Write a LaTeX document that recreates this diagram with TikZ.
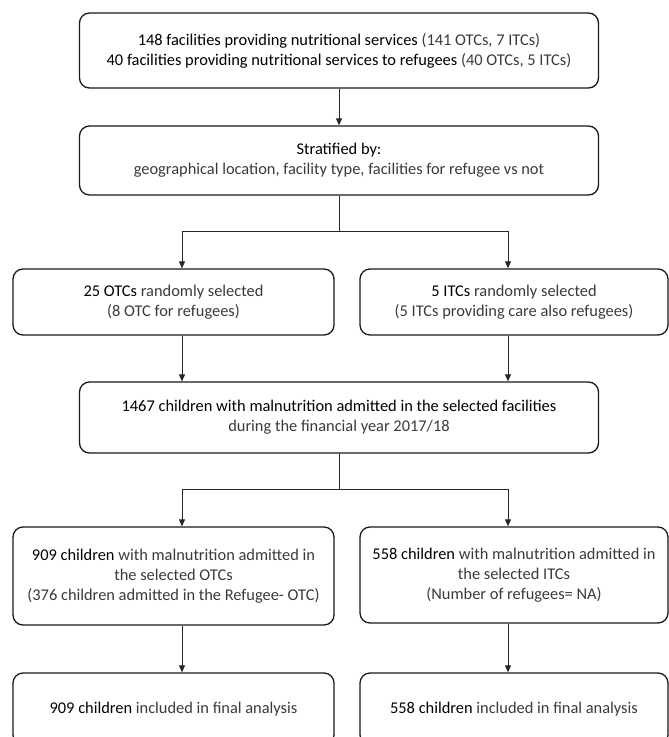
\documentclass[tikz,border=0pt]{standalone}
\usepackage{fontspec}
\setmainfont{Carlito}
\usetikzlibrary{arrows.meta}
\definecolor{lite}{HTML}{3A3A3A}
\newcommand{\hl}[1]{{\color{black}#1}}
\begin{document}
\begin{tikzpicture}[x=1pt,y=-1pt,
  box/.style={draw=black!90, line width=1.3pt, rounded corners=10pt, align=center,
    text=lite, inner sep=0pt, font=\fontsize{16.4}{20}\selectfont},
  arr/.style={draw=black!85, line width=0.9pt, -{Triangle[length=7pt,width=6pt]}},
  ln/.style={draw=black!85, line width=0.9pt}]
\useasboundingbox (0,0) rectangle (669,737);
\clip (0,0) rectangle (669,737);
\node[box, minimum width=519pt, minimum height=75pt] (A) at (339,50.5)
  {\hl{148 facilities providing nutritional services} (141 OTCs, 7 ITCs)\\
   \hl{40 facilities providing nutritional services to refugees} (40 OTCs, 5 ITCs)};
\node[box, minimum width=519pt, minimum height=69pt] (B) at (339,160.5)
  {\hl{Stratified by:}\\
   geographical location, facility type, facilities for refugee vs not};
\node[box, minimum width=321pt, minimum height=66pt] (C) at (173.5,302)
  {\hl{25 OTCs} randomly selected\\ (8 OTC for refugees)};
\node[box, minimum width=308pt, minimum height=66pt] (D) at (514,302)
  {\hl{5 ITCs} randomly selected\\ (5 ITCs providing care also refugees)};
\node[box, minimum width=519pt, minimum height=71pt] (E) at (339,417.5)
  {\hl{1467 children with malnutrition admitted in the selected facilities}\\
   during the financial year 2017/18};
\node[box, minimum width=321pt, minimum height=98pt] (F) at (173.5,576)
  {\hl{909 children} with malnutrition admitted in\\ the selected OTCs\\
   (376 children admitted in the Refugee- OTC)};
\node[box, minimum width=308pt, minimum height=96pt] (G) at (514,575)
  {\hl{558 children} with malnutrition admitted in\\ the selected ITCs\\
   (Number of refugees= NA)};
\node[box, minimum width=321pt, minimum height=72pt] (H) at (173.5,709)
  {\hl{909 children} included in final analysis};
\node[box, minimum width=308pt, minimum height=72pt] (I) at (514,709)
  {\hl{558 children} included in final analysis};
\coordinate (j1) at (339,231);
\coordinate (j2) at (339,489);
\draw[arr] (A) -- (B);
\draw[ln] (B.south) -- (j1);
\draw[arr] (j1) -| ([xshift=8.5pt]C.north);
\draw[arr] (j1) -| ([xshift=-6pt]D.north);
\draw[arr] ([xshift=8.5pt]C.south) -- ([xshift=8.5pt]C.south |- E.north);
\draw[arr] ([xshift=-6pt]D.south) -- ([xshift=-6pt]D.south |- E.north);
\draw[ln] (E.south) -- (j2);
\draw[arr] (j2) -| ([xshift=8.5pt]F.north);
\draw[arr] (j2) -| ([xshift=-6pt]G.north);
\draw[arr] ([xshift=8.5pt]F.south) -- ([xshift=8.5pt]H.north);
\draw[arr] ([xshift=-6pt]G.south) -- ([xshift=-6pt]I.north);
\end{tikzpicture}
\end{document}
